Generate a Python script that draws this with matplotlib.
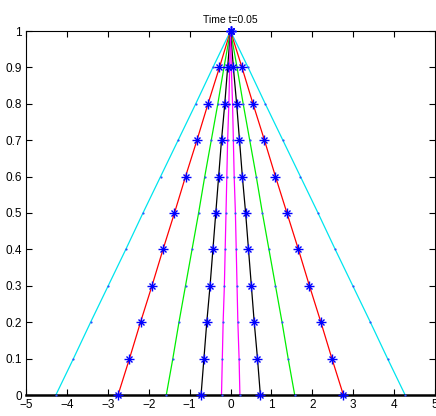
import numpy as np
import matplotlib
matplotlib.use("Agg")
import matplotlib.pyplot as plt

plt.rcParams['font.family'] = ['Liberation Sans Narrow', 'Liberation Sans', 'DejaVu Sans']

# heights of the sample points (same for every curve)
y_pts = [0.0, 0.1, 0.2, 0.3, 0.4, 0.5, 0.6, 0.7, 0.8, 0.9, 1.0]

# x positions, left and right branch of each curve
cyan_left = [-4.27, -3.84, -3.42, -2.99, -2.56, -2.14, -1.71, -1.28, -0.85, -0.43, 0.0]
cyan_right = [4.27, 3.84, 3.42, 2.99, 2.56, 2.14, 1.71, 1.28, 0.85, 0.43, 0.0]
red_left = [-2.75, -2.47, -2.20, -1.92, -1.65, -1.37, -1.10, -0.82, -0.55, -0.27, 0.0]
red_right = [2.76, 2.48, 2.21, 1.93, 1.66, 1.38, 1.10, 0.83, 0.55, 0.28, 0.0]
green_left = [-1.57, -1.41, -1.26, -1.10, -0.94, -0.78, -0.63, -0.47, -0.31, -0.16, 0.0]
green_right = [1.57, 1.41, 1.26, 1.10, 0.94, 0.78, 0.63, 0.47, 0.31, 0.16, 0.0]
black_left = [-0.72, -0.65, -0.58, -0.50, -0.43, -0.36, -0.29, -0.22, -0.14, -0.07, 0.0]
black_right = [0.73, 0.66, 0.58, 0.51, 0.44, 0.37, 0.29, 0.22, 0.15, 0.07, 0.0]
magenta_left = [-0.22, -0.20, -0.18, -0.15, -0.13, -0.11, -0.09, -0.07, -0.04, -0.02, 0.0]
magenta_right = [0.23, 0.21, 0.18, 0.16, 0.14, 0.12, 0.09, 0.07, 0.05, 0.02, 0.0]

x_ticks = [-5, -4, -3, -2, -1, 0, 1, 2, 3, 4, 5]
y_ticks = [0, 0.1, 0.2, 0.3, 0.4, 0.5, 0.6, 0.7, 0.8, 0.9, 1]
y_labels = ["0", "0.1", "0.2", "0.3", "0.4", "0.5", "0.6", "0.7", "0.8", "0.9", "1"]

fig = plt.figure(figsize=(4.36, 4.16), dpi=100)
ax = fig.add_axes([26 / 436, 1 - 395 / 416, 409 / 436, 364 / 416])

curves = [
    (cyan_left, cyan_right, "#00e5ee", "."),
    (red_left, red_right, "red", "*"),
    (green_left, green_right, "#00ee00", "."),
    (black_left, black_right, "black", "*"),
    (magenta_left, magenta_right, "magenta", "."),
]

for left, right, col, mk in curves:
    for xs in (left, right):
        ax.plot(xs, y_pts, color=col, lw=0.9, zorder=2)
        if mk == "*":
            # matlab style asterisk: plus + cross
            ax.plot(xs, y_pts, ls="none", marker="+", color="blue", ms=7,
                    mew=1.0, zorder=4, clip_on=False)
            ax.plot(xs, y_pts, ls="none", marker="x", color="blue", ms=5,
                    mew=1.0, zorder=4, clip_on=False)
        else:
            ax.plot(xs, y_pts, ls="none", marker="o", color="#3050ff", ms=1.6,
                    mew=0, zorder=3, clip_on=False)

ax.set_xlim(-5, 5)
ax.set_ylim(0, 1)
ax.set_xticks(x_ticks)
ax.set_xticklabels([str(v).replace("-", "\u2212") for v in x_ticks])
ax.set_yticks(y_ticks)
ax.set_yticklabels(y_labels)
ax.tick_params(direction="in", length=4, width=0.8, labelsize=8.5,
               top=True, right=True, pad=3)
for sp in ax.spines.values():
    sp.set_linewidth(0.8)
ax.spines["bottom"].set_linewidth(1.8)

ax.set_title("Time t=0.05", fontsize=7.5, pad=6)

fig.savefig("out.png", dpi=100)
